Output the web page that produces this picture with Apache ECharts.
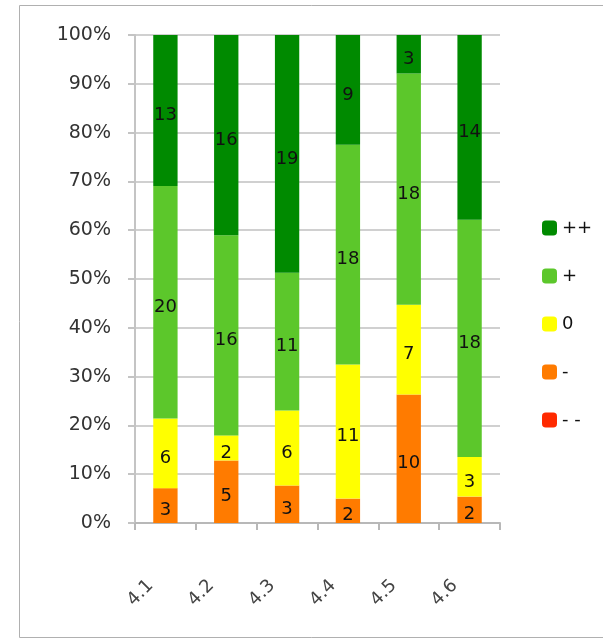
<!DOCTYPE html>
<html>
<head>
<meta charset="utf-8">
<script src="https://cdn.jsdelivr.net/npm/echarts@6/dist/echarts.min.js"></script>
<style>html,body{margin:0;padding:0;background:#fff;}#c{width:603px;height:640px;}</style>
</head>
<body>
<div id="c"></div>
<script>
var categories = ['4.1', '4.2', '4.3', '4.4', '4.5', '4.6'];
var seriesNames = ['- -', '-', '0', '+', '++'];
var vMinusMinus = [0, 0, 0, 0, 0, 0];
var vMinus = [3, 5, 3, 2, 10, 2];
var vZero = [6, 2, 6, 11, 7, 3];
var vPlus = [20, 16, 11, 18, 18, 18];
var vPlusPlus = [13, 16, 19, 9, 3, 14];
var yTicks = [0, 10, 20, 30, 40, 50, 60, 70, 80, 90, 100];

var colors = ['#ff2a00', '#ff7b00', '#ffff00', '#5cc72b', '#008a00'];
var raw = [vMinusMinus, vMinus, vZero, vPlus, vPlusPlus];
var totals = categories.map(function (c, i) {
  return raw.reduce(function (s, arr) { return s + arr[i]; }, 0);
});

var series = raw.map(function (arr, k) {
  return {
    name: seriesNames[k],
    type: 'bar',
    stack: 'total',
    barWidth: '40%',
    itemStyle: { color: colors[k] },
    data: arr.map(function (v, i) { return { value: v / totals[i] * 100, raw: v }; }),
    label: {
      show: true,
      position: 'inside',
      offset: [0, 5],
      color: '#111',
      fontFamily: 'DejaVu Sans',
      fontSize: 18,
      formatter: function (p) { return p.data.raw === 0 ? '' : String(p.data.raw); }
    }
  };
});

var chart = echarts.init(document.getElementById('c'));
chart.setOption({
  animation: false,
  backgroundColor: '#fff',
  graphic: [{
    type: 'rect',
    shape: { x: 19.5, y: 5.5, width: 620, height: 632 },
    style: { fill: 'none', stroke: '#b0b0b0', lineWidth: 1 },
    silent: true
  }],
  grid: { left: 135, right: 103, top: 35, bottom: 117 },
  legend: {
    orient: 'vertical',
    left: 537,
    top: 214,
    itemWidth: 15,
    itemHeight: 15,
    itemGap: 30,
    itemStyle: { borderWidth: 0 },
    data: ['++', '+', '0', '-', '- -'],
    textStyle: { fontFamily: 'DejaVu Sans', fontSize: 18, color: '#111' }
  },
  xAxis: {
    type: 'category',
    data: categories,
    axisLine: { lineStyle: { color: '#b8b8b8', width: 2 } },
    axisTick: { show: true, length: 7, lineStyle: { color: '#b8b8b8', width: 2 } },
    axisLabel: { rotate: 45, margin: 45, padding: [0, 21, 0, 0], fontFamily: 'DejaVu Sans', fontSize: 18, color: '#444' }
  },
  yAxis: {
    type: 'value',
    min: 0,
    max: 100,
    interval: 10,
    axisLine: { show: true, lineStyle: { color: '#c4c4c4', width: 2 } },
    axisTick: { show: true, length: 7, lineStyle: { color: '#c4c4c4', width: 2 } },
    splitLine: { show: true, lineStyle: { color: '#d0d0d0', width: 2 } },
    axisLabel: {
      margin: 24,
      fontFamily: 'DejaVu Sans',
      fontSize: 19,
      color: '#333',
      customValues: yTicks,
      formatter: '{value}%'
    }
  },
  series: series
});
</script>
</body>
</html>
